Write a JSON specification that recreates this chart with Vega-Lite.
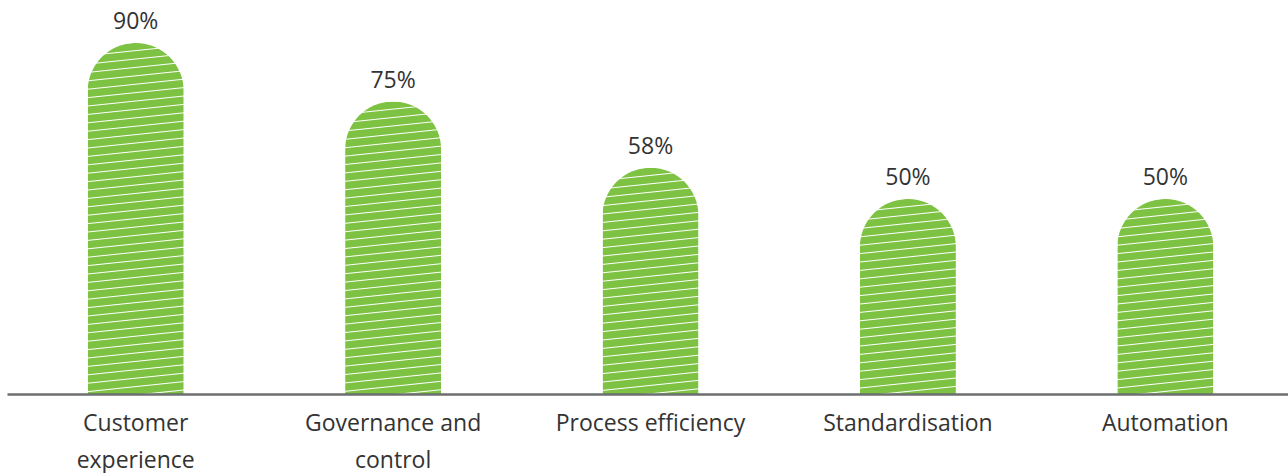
{
  "$schema": "https://vega.github.io/schema/vega-lite/v6.json",
  "width": 1287,
  "height": 394,
  "autosize": {"type": "none"},
  "padding": {"left": 7, "top": 0, "right": 0, "bottom": 79},
  "background": "white",
  "config": {"view": {"stroke": null}, "font": "Open Sans"},
  "data": {
    "values": [
      {"category": "Customer experience", "value": 0.90},
      {"category": "Governance and control", "value": 0.75},
      {"category": "Process efficiency", "value": 0.58},
      {"category": "Standardisation", "value": 0.50},
      {"category": "Automation", "value": 0.50}
    ]
  },
  "encoding": {
    "x": {
      "field": "category",
      "type": "nominal",
      "scale": {
        "domain": ["Customer experience", "Governance and control", "Process efficiency", "Standardisation", "Automation"],
        "paddingInner": 0.627,
        "paddingOuter": 0.3135
      },
      "axis": {
        "title": null,
        "ticks": false,
        "tickSize": 0,
        "domainColor": "#6d6e70",
        "domainWidth": 2.5,
        "labelFont": "Open Sans",
        "labelFontSize": 23,
        "labelColor": "#333333",
        "labelPadding": 18,
        "labelLineHeight": 37,
        "labelLimit": 0,
        "labelAngle": 0,
        "zindex": 1,
        "labelExpr": "datum.value == 'Customer experience' ? ['Customer', 'experience'] : datum.value == 'Governance and control' ? ['Governance and', 'control'] : datum.value"
      }
    },
    "y": {
      "field": "value",
      "type": "quantitative",
      "scale": {"domain": [0, 1.0103]},
      "axis": null
    }
  },
  "layer": [
    {
      "transform": [{"filter": "datum.category === 'Customer experience'"}],
      "mark": {"type": "bar", "cornerRadiusTopLeft": 48, "cornerRadiusTopRight": 48, "stroke": null,
        "fill": {"gradient": "linear", "x1": 0, "y1": 0, "x2": 0.034063, "y2": 1.19561, "stops": [
{"offset":0,"color":"#7dc242"},
{"offset":0.0076,"color":"#7dc242"},{"offset":0.01,"color":"#ffffff"},{"offset":0.0124,"color":"#7dc242"},
{"offset":0.0276,"color":"#7dc242"},{"offset":0.03,"color":"#ffffff"},{"offset":0.0324,"color":"#7dc242"},
{"offset":0.0476,"color":"#7dc242"},{"offset":0.05,"color":"#ffffff"},{"offset":0.0524,"color":"#7dc242"},
{"offset":0.0676,"color":"#7dc242"},{"offset":0.07,"color":"#ffffff"},{"offset":0.0724,"color":"#7dc242"},
{"offset":0.0876,"color":"#7dc242"},{"offset":0.09,"color":"#ffffff"},{"offset":0.0924,"color":"#7dc242"},
{"offset":0.1076,"color":"#7dc242"},{"offset":0.11,"color":"#ffffff"},{"offset":0.1124,"color":"#7dc242"},
{"offset":0.1276,"color":"#7dc242"},{"offset":0.13,"color":"#ffffff"},{"offset":0.1324,"color":"#7dc242"},
{"offset":0.1476,"color":"#7dc242"},{"offset":0.15,"color":"#ffffff"},{"offset":0.1524,"color":"#7dc242"},
{"offset":0.1676,"color":"#7dc242"},{"offset":0.17,"color":"#ffffff"},{"offset":0.1724,"color":"#7dc242"},
{"offset":0.1876,"color":"#7dc242"},{"offset":0.19,"color":"#ffffff"},{"offset":0.1924,"color":"#7dc242"},
{"offset":0.2076,"color":"#7dc242"},{"offset":0.21,"color":"#ffffff"},{"offset":0.2124,"color":"#7dc242"},
{"offset":0.2276,"color":"#7dc242"},{"offset":0.23,"color":"#ffffff"},{"offset":0.2324,"color":"#7dc242"},
{"offset":0.2476,"color":"#7dc242"},{"offset":0.25,"color":"#ffffff"},{"offset":0.2524,"color":"#7dc242"},
{"offset":0.2676,"color":"#7dc242"},{"offset":0.27,"color":"#ffffff"},{"offset":0.2724,"color":"#7dc242"},
{"offset":0.2876,"color":"#7dc242"},{"offset":0.29,"color":"#ffffff"},{"offset":0.2924,"color":"#7dc242"},
{"offset":0.3076,"color":"#7dc242"},{"offset":0.31,"color":"#ffffff"},{"offset":0.3124,"color":"#7dc242"},
{"offset":0.3276,"color":"#7dc242"},{"offset":0.33,"color":"#ffffff"},{"offset":0.3324,"color":"#7dc242"},
{"offset":0.3476,"color":"#7dc242"},{"offset":0.35,"color":"#ffffff"},{"offset":0.3524,"color":"#7dc242"},
{"offset":0.3676,"color":"#7dc242"},{"offset":0.37,"color":"#ffffff"},{"offset":0.3724,"color":"#7dc242"},
{"offset":0.3876,"color":"#7dc242"},{"offset":0.39,"color":"#ffffff"},{"offset":0.3924,"color":"#7dc242"},
{"offset":0.4076,"color":"#7dc242"},{"offset":0.41,"color":"#ffffff"},{"offset":0.4124,"color":"#7dc242"},
{"offset":0.4276,"color":"#7dc242"},{"offset":0.43,"color":"#ffffff"},{"offset":0.4324,"color":"#7dc242"},
{"offset":0.4476,"color":"#7dc242"},{"offset":0.45,"color":"#ffffff"},{"offset":0.4524,"color":"#7dc242"},
{"offset":0.4676,"color":"#7dc242"},{"offset":0.47,"color":"#ffffff"},{"offset":0.4724,"color":"#7dc242"},
{"offset":0.4876,"color":"#7dc242"},{"offset":0.49,"color":"#ffffff"},{"offset":0.4924,"color":"#7dc242"},
{"offset":0.5076,"color":"#7dc242"},{"offset":0.51,"color":"#ffffff"},{"offset":0.5124,"color":"#7dc242"},
{"offset":0.5276,"color":"#7dc242"},{"offset":0.53,"color":"#ffffff"},{"offset":0.5324,"color":"#7dc242"},
{"offset":0.5476,"color":"#7dc242"},{"offset":0.55,"color":"#ffffff"},{"offset":0.5524,"color":"#7dc242"},
{"offset":0.5676,"color":"#7dc242"},{"offset":0.57,"color":"#ffffff"},{"offset":0.5724,"color":"#7dc242"},
{"offset":0.5876,"color":"#7dc242"},{"offset":0.59,"color":"#ffffff"},{"offset":0.5924,"color":"#7dc242"},
{"offset":0.6076,"color":"#7dc242"},{"offset":0.61,"color":"#ffffff"},{"offset":0.6124,"color":"#7dc242"},
{"offset":0.6276,"color":"#7dc242"},{"offset":0.63,"color":"#ffffff"},{"offset":0.6324,"color":"#7dc242"},
{"offset":0.6476,"color":"#7dc242"},{"offset":0.65,"color":"#ffffff"},{"offset":0.6524,"color":"#7dc242"},
{"offset":0.6676,"color":"#7dc242"},{"offset":0.67,"color":"#ffffff"},{"offset":0.6724,"color":"#7dc242"},
{"offset":0.6876,"color":"#7dc242"},{"offset":0.69,"color":"#ffffff"},{"offset":0.6924,"color":"#7dc242"},
{"offset":0.7076,"color":"#7dc242"},{"offset":0.71,"color":"#ffffff"},{"offset":0.7124,"color":"#7dc242"},
{"offset":0.7276,"color":"#7dc242"},{"offset":0.73,"color":"#ffffff"},{"offset":0.7324,"color":"#7dc242"},
{"offset":0.7476,"color":"#7dc242"},{"offset":0.75,"color":"#ffffff"},{"offset":0.7524,"color":"#7dc242"},
{"offset":0.7676,"color":"#7dc242"},{"offset":0.77,"color":"#ffffff"},{"offset":0.7724,"color":"#7dc242"},
{"offset":0.7876,"color":"#7dc242"},{"offset":0.79,"color":"#ffffff"},{"offset":0.7924,"color":"#7dc242"},
{"offset":0.8076,"color":"#7dc242"},{"offset":0.81,"color":"#ffffff"},{"offset":0.8124,"color":"#7dc242"},
{"offset":0.8276,"color":"#7dc242"},{"offset":0.83,"color":"#ffffff"},{"offset":0.8324,"color":"#7dc242"},
{"offset":0.8476,"color":"#7dc242"},{"offset":0.85,"color":"#ffffff"},{"offset":0.8524,"color":"#7dc242"},
{"offset":0.8676,"color":"#7dc242"},{"offset":0.87,"color":"#ffffff"},{"offset":0.8724,"color":"#7dc242"},
{"offset":1,"color":"#7dc242"}
        ]}
      }
    },
    {
      "transform": [{"filter": "datum.category === 'Governance and control'"}],
      "mark": {"type": "bar", "cornerRadiusTopLeft": 48, "cornerRadiusTopRight": 48, "stroke": null,
        "fill": {"gradient": "linear", "x1": 0, "y1": 0, "x2": 0.049033, "y2": 1.43422, "stops": [
{"offset":0,"color":"#7dc242"},
{"offset":0.0076,"color":"#7dc242"},{"offset":0.01,"color":"#ffffff"},{"offset":0.0124,"color":"#7dc242"},
{"offset":0.0276,"color":"#7dc242"},{"offset":0.03,"color":"#ffffff"},{"offset":0.0324,"color":"#7dc242"},
{"offset":0.0476,"color":"#7dc242"},{"offset":0.05,"color":"#ffffff"},{"offset":0.0524,"color":"#7dc242"},
{"offset":0.0676,"color":"#7dc242"},{"offset":0.07,"color":"#ffffff"},{"offset":0.0724,"color":"#7dc242"},
{"offset":0.0876,"color":"#7dc242"},{"offset":0.09,"color":"#ffffff"},{"offset":0.0924,"color":"#7dc242"},
{"offset":0.1076,"color":"#7dc242"},{"offset":0.11,"color":"#ffffff"},{"offset":0.1124,"color":"#7dc242"},
{"offset":0.1276,"color":"#7dc242"},{"offset":0.13,"color":"#ffffff"},{"offset":0.1324,"color":"#7dc242"},
{"offset":0.1476,"color":"#7dc242"},{"offset":0.15,"color":"#ffffff"},{"offset":0.1524,"color":"#7dc242"},
{"offset":0.1676,"color":"#7dc242"},{"offset":0.17,"color":"#ffffff"},{"offset":0.1724,"color":"#7dc242"},
{"offset":0.1876,"color":"#7dc242"},{"offset":0.19,"color":"#ffffff"},{"offset":0.1924,"color":"#7dc242"},
{"offset":0.2076,"color":"#7dc242"},{"offset":0.21,"color":"#ffffff"},{"offset":0.2124,"color":"#7dc242"},
{"offset":0.2276,"color":"#7dc242"},{"offset":0.23,"color":"#ffffff"},{"offset":0.2324,"color":"#7dc242"},
{"offset":0.2476,"color":"#7dc242"},{"offset":0.25,"color":"#ffffff"},{"offset":0.2524,"color":"#7dc242"},
{"offset":0.2676,"color":"#7dc242"},{"offset":0.27,"color":"#ffffff"},{"offset":0.2724,"color":"#7dc242"},
{"offset":0.2876,"color":"#7dc242"},{"offset":0.29,"color":"#ffffff"},{"offset":0.2924,"color":"#7dc242"},
{"offset":0.3076,"color":"#7dc242"},{"offset":0.31,"color":"#ffffff"},{"offset":0.3124,"color":"#7dc242"},
{"offset":0.3276,"color":"#7dc242"},{"offset":0.33,"color":"#ffffff"},{"offset":0.3324,"color":"#7dc242"},
{"offset":0.3476,"color":"#7dc242"},{"offset":0.35,"color":"#ffffff"},{"offset":0.3524,"color":"#7dc242"},
{"offset":0.3676,"color":"#7dc242"},{"offset":0.37,"color":"#ffffff"},{"offset":0.3724,"color":"#7dc242"},
{"offset":0.3876,"color":"#7dc242"},{"offset":0.39,"color":"#ffffff"},{"offset":0.3924,"color":"#7dc242"},
{"offset":0.4076,"color":"#7dc242"},{"offset":0.41,"color":"#ffffff"},{"offset":0.4124,"color":"#7dc242"},
{"offset":0.4276,"color":"#7dc242"},{"offset":0.43,"color":"#ffffff"},{"offset":0.4324,"color":"#7dc242"},
{"offset":0.4476,"color":"#7dc242"},{"offset":0.45,"color":"#ffffff"},{"offset":0.4524,"color":"#7dc242"},
{"offset":0.4676,"color":"#7dc242"},{"offset":0.47,"color":"#ffffff"},{"offset":0.4724,"color":"#7dc242"},
{"offset":0.4876,"color":"#7dc242"},{"offset":0.49,"color":"#ffffff"},{"offset":0.4924,"color":"#7dc242"},
{"offset":0.5076,"color":"#7dc242"},{"offset":0.51,"color":"#ffffff"},{"offset":0.5124,"color":"#7dc242"},
{"offset":0.5276,"color":"#7dc242"},{"offset":0.53,"color":"#ffffff"},{"offset":0.5324,"color":"#7dc242"},
{"offset":0.5476,"color":"#7dc242"},{"offset":0.55,"color":"#ffffff"},{"offset":0.5524,"color":"#7dc242"},
{"offset":0.5676,"color":"#7dc242"},{"offset":0.57,"color":"#ffffff"},{"offset":0.5724,"color":"#7dc242"},
{"offset":0.5876,"color":"#7dc242"},{"offset":0.59,"color":"#ffffff"},{"offset":0.5924,"color":"#7dc242"},
{"offset":0.6076,"color":"#7dc242"},{"offset":0.61,"color":"#ffffff"},{"offset":0.6124,"color":"#7dc242"},
{"offset":0.6276,"color":"#7dc242"},{"offset":0.63,"color":"#ffffff"},{"offset":0.6324,"color":"#7dc242"},
{"offset":0.6476,"color":"#7dc242"},{"offset":0.65,"color":"#ffffff"},{"offset":0.6524,"color":"#7dc242"},
{"offset":0.6676,"color":"#7dc242"},{"offset":0.67,"color":"#ffffff"},{"offset":0.6724,"color":"#7dc242"},
{"offset":0.6876,"color":"#7dc242"},{"offset":0.69,"color":"#ffffff"},{"offset":0.6924,"color":"#7dc242"},
{"offset":0.7076,"color":"#7dc242"},{"offset":0.71,"color":"#ffffff"},{"offset":0.7124,"color":"#7dc242"},
{"offset":0.7276,"color":"#7dc242"},{"offset":0.73,"color":"#ffffff"},{"offset":0.7324,"color":"#7dc242"},
{"offset":1,"color":"#7dc242"}
        ]}
      }
    },
    {
      "transform": [{"filter": "datum.category === 'Process efficiency'"}],
      "mark": {"type": "bar", "cornerRadiusTopLeft": 48, "cornerRadiusTopRight": 48, "stroke": null,
        "fill": {"gradient": "linear", "x1": 0, "y1": 0, "x2": 0.081926, "y2": 1.85314, "stops": [
{"offset":0,"color":"#7dc242"},
{"offset":0.0076,"color":"#7dc242"},{"offset":0.01,"color":"#ffffff"},{"offset":0.0124,"color":"#7dc242"},
{"offset":0.0276,"color":"#7dc242"},{"offset":0.03,"color":"#ffffff"},{"offset":0.0324,"color":"#7dc242"},
{"offset":0.0476,"color":"#7dc242"},{"offset":0.05,"color":"#ffffff"},{"offset":0.0524,"color":"#7dc242"},
{"offset":0.0676,"color":"#7dc242"},{"offset":0.07,"color":"#ffffff"},{"offset":0.0724,"color":"#7dc242"},
{"offset":0.0876,"color":"#7dc242"},{"offset":0.09,"color":"#ffffff"},{"offset":0.0924,"color":"#7dc242"},
{"offset":0.1076,"color":"#7dc242"},{"offset":0.11,"color":"#ffffff"},{"offset":0.1124,"color":"#7dc242"},
{"offset":0.1276,"color":"#7dc242"},{"offset":0.13,"color":"#ffffff"},{"offset":0.1324,"color":"#7dc242"},
{"offset":0.1476,"color":"#7dc242"},{"offset":0.15,"color":"#ffffff"},{"offset":0.1524,"color":"#7dc242"},
{"offset":0.1676,"color":"#7dc242"},{"offset":0.17,"color":"#ffffff"},{"offset":0.1724,"color":"#7dc242"},
{"offset":0.1876,"color":"#7dc242"},{"offset":0.19,"color":"#ffffff"},{"offset":0.1924,"color":"#7dc242"},
{"offset":0.2076,"color":"#7dc242"},{"offset":0.21,"color":"#ffffff"},{"offset":0.2124,"color":"#7dc242"},
{"offset":0.2276,"color":"#7dc242"},{"offset":0.23,"color":"#ffffff"},{"offset":0.2324,"color":"#7dc242"},
{"offset":0.2476,"color":"#7dc242"},{"offset":0.25,"color":"#ffffff"},{"offset":0.2524,"color":"#7dc242"},
{"offset":0.2676,"color":"#7dc242"},{"offset":0.27,"color":"#ffffff"},{"offset":0.2724,"color":"#7dc242"},
{"offset":0.2876,"color":"#7dc242"},{"offset":0.29,"color":"#ffffff"},{"offset":0.2924,"color":"#7dc242"},
{"offset":0.3076,"color":"#7dc242"},{"offset":0.31,"color":"#ffffff"},{"offset":0.3124,"color":"#7dc242"},
{"offset":0.3276,"color":"#7dc242"},{"offset":0.33,"color":"#ffffff"},{"offset":0.3324,"color":"#7dc242"},
{"offset":0.3476,"color":"#7dc242"},{"offset":0.35,"color":"#ffffff"},{"offset":0.3524,"color":"#7dc242"},
{"offset":0.3676,"color":"#7dc242"},{"offset":0.37,"color":"#ffffff"},{"offset":0.3724,"color":"#7dc242"},
{"offset":0.3876,"color":"#7dc242"},{"offset":0.39,"color":"#ffffff"},{"offset":0.3924,"color":"#7dc242"},
{"offset":0.4076,"color":"#7dc242"},{"offset":0.41,"color":"#ffffff"},{"offset":0.4124,"color":"#7dc242"},
{"offset":0.4276,"color":"#7dc242"},{"offset":0.43,"color":"#ffffff"},{"offset":0.4324,"color":"#7dc242"},
{"offset":0.4476,"color":"#7dc242"},{"offset":0.45,"color":"#ffffff"},{"offset":0.4524,"color":"#7dc242"},
{"offset":0.4676,"color":"#7dc242"},{"offset":0.47,"color":"#ffffff"},{"offset":0.4724,"color":"#7dc242"},
{"offset":0.4876,"color":"#7dc242"},{"offset":0.49,"color":"#ffffff"},{"offset":0.4924,"color":"#7dc242"},
{"offset":0.5076,"color":"#7dc242"},{"offset":0.51,"color":"#ffffff"},{"offset":0.5124,"color":"#7dc242"},
{"offset":0.5276,"color":"#7dc242"},{"offset":0.53,"color":"#ffffff"},{"offset":0.5324,"color":"#7dc242"},
{"offset":0.5476,"color":"#7dc242"},{"offset":0.55,"color":"#ffffff"},{"offset":0.5524,"color":"#7dc242"},
{"offset":0.5676,"color":"#7dc242"},{"offset":0.57,"color":"#ffffff"},{"offset":0.5724,"color":"#7dc242"},
{"offset":1,"color":"#7dc242"}
        ]}
      }
    },
    {
      "transform": [{"filter": "datum.category === 'Standardisation' || datum.category === 'Automation'"}],
      "mark": {"type": "bar", "cornerRadiusTopLeft": 48, "cornerRadiusTopRight": 48, "stroke": null,
        "fill": {"gradient": "linear", "x1": 0, "y1": 0, "x2": 0.110164, "y2": 2.14819, "stops": [
{"offset":0,"color":"#7dc242"},
{"offset":0.0076,"color":"#7dc242"},{"offset":0.01,"color":"#ffffff"},{"offset":0.0124,"color":"#7dc242"},
{"offset":0.0276,"color":"#7dc242"},{"offset":0.03,"color":"#ffffff"},{"offset":0.0324,"color":"#7dc242"},
{"offset":0.0476,"color":"#7dc242"},{"offset":0.05,"color":"#ffffff"},{"offset":0.0524,"color":"#7dc242"},
{"offset":0.0676,"color":"#7dc242"},{"offset":0.07,"color":"#ffffff"},{"offset":0.0724,"color":"#7dc242"},
{"offset":0.0876,"color":"#7dc242"},{"offset":0.09,"color":"#ffffff"},{"offset":0.0924,"color":"#7dc242"},
{"offset":0.1076,"color":"#7dc242"},{"offset":0.11,"color":"#ffffff"},{"offset":0.1124,"color":"#7dc242"},
{"offset":0.1276,"color":"#7dc242"},{"offset":0.13,"color":"#ffffff"},{"offset":0.1324,"color":"#7dc242"},
{"offset":0.1476,"color":"#7dc242"},{"offset":0.15,"color":"#ffffff"},{"offset":0.1524,"color":"#7dc242"},
{"offset":0.1676,"color":"#7dc242"},{"offset":0.17,"color":"#ffffff"},{"offset":0.1724,"color":"#7dc242"},
{"offset":0.1876,"color":"#7dc242"},{"offset":0.19,"color":"#ffffff"},{"offset":0.1924,"color":"#7dc242"},
{"offset":0.2076,"color":"#7dc242"},{"offset":0.21,"color":"#ffffff"},{"offset":0.2124,"color":"#7dc242"},
{"offset":0.2276,"color":"#7dc242"},{"offset":0.23,"color":"#ffffff"},{"offset":0.2324,"color":"#7dc242"},
{"offset":0.2476,"color":"#7dc242"},{"offset":0.25,"color":"#ffffff"},{"offset":0.2524,"color":"#7dc242"},
{"offset":0.2676,"color":"#7dc242"},{"offset":0.27,"color":"#ffffff"},{"offset":0.2724,"color":"#7dc242"},
{"offset":0.2876,"color":"#7dc242"},{"offset":0.29,"color":"#ffffff"},{"offset":0.2924,"color":"#7dc242"},
{"offset":0.3076,"color":"#7dc242"},{"offset":0.31,"color":"#ffffff"},{"offset":0.3124,"color":"#7dc242"},
{"offset":0.3276,"color":"#7dc242"},{"offset":0.33,"color":"#ffffff"},{"offset":0.3324,"color":"#7dc242"},
{"offset":0.3476,"color":"#7dc242"},{"offset":0.35,"color":"#ffffff"},{"offset":0.3524,"color":"#7dc242"},
{"offset":0.3676,"color":"#7dc242"},{"offset":0.37,"color":"#ffffff"},{"offset":0.3724,"color":"#7dc242"},
{"offset":0.3876,"color":"#7dc242"},{"offset":0.39,"color":"#ffffff"},{"offset":0.3924,"color":"#7dc242"},
{"offset":0.4076,"color":"#7dc242"},{"offset":0.41,"color":"#ffffff"},{"offset":0.4124,"color":"#7dc242"},
{"offset":0.4276,"color":"#7dc242"},{"offset":0.43,"color":"#ffffff"},{"offset":0.4324,"color":"#7dc242"},
{"offset":0.4476,"color":"#7dc242"},{"offset":0.45,"color":"#ffffff"},{"offset":0.4524,"color":"#7dc242"},
{"offset":0.4676,"color":"#7dc242"},{"offset":0.47,"color":"#ffffff"},{"offset":0.4724,"color":"#7dc242"},
{"offset":0.4876,"color":"#7dc242"},{"offset":0.49,"color":"#ffffff"},{"offset":0.4924,"color":"#7dc242"},
{"offset":1,"color":"#7dc242"}
        ]}
      }
    },
    {
      "mark": {"type": "text", "baseline": "alphabetic", "dy": -14, "fontSize": 23, "font": "Open Sans", "color": "#333333"},
      "encoding": {
        "text": {"field": "value", "type": "quantitative", "format": ".0%"}
      }
    }
  ]
}
